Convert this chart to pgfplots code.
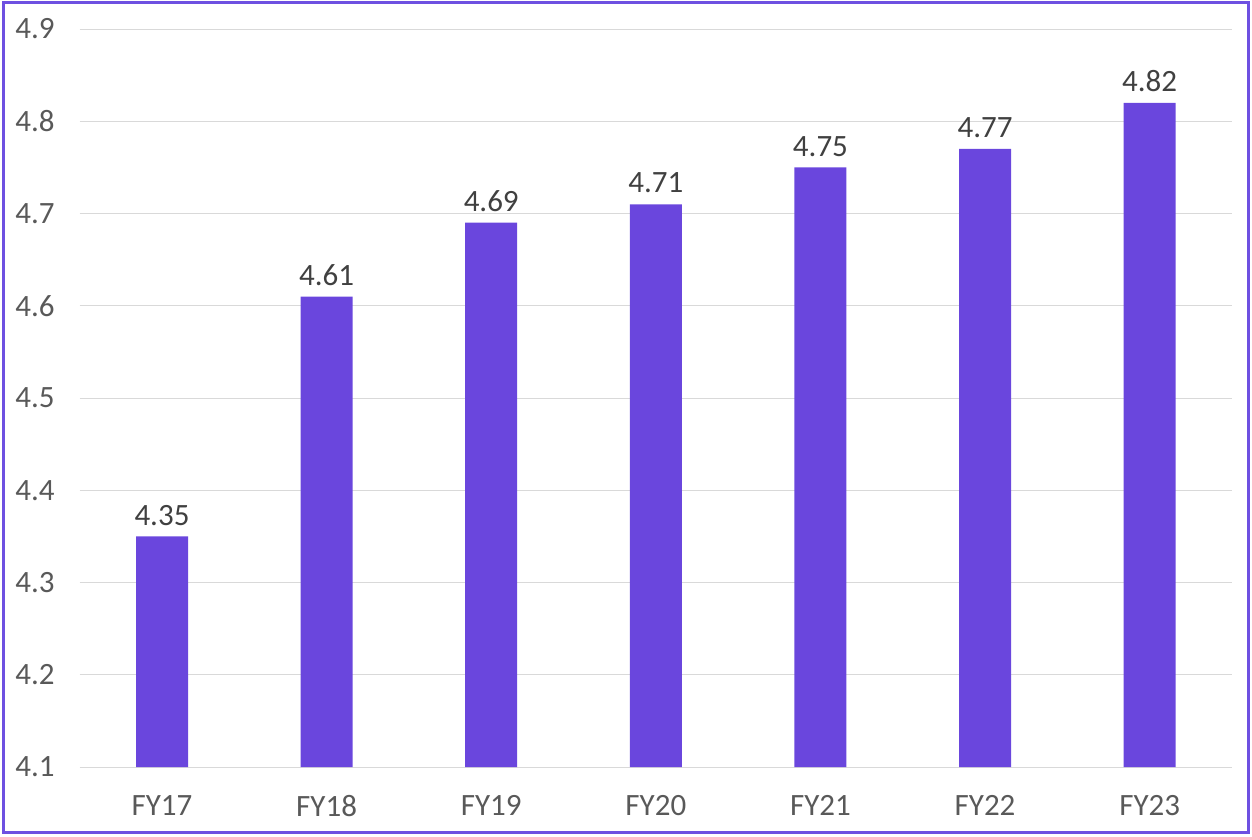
\documentclass[border=0pt]{standalone}
\usepackage{pgfplots}
\pgfplotsset{compat=1.18}
\usepackage{fontspec}
\setmainfont{Carlito}
\definecolor{barc}{RGB}{106,70,221}
\definecolor{framec}{RGB}{110,80,225}
\definecolor{gridc}{RGB}{217,217,217}
\definecolor{tickc}{RGB}{89,89,89}
\definecolor{valc}{RGB}{64,64,64}
\begin{document}
\begin{tikzpicture}
\useasboundingbox (0,0) rectangle (626pt,418pt);
\draw[framec, line width=1.5pt] (1.5pt,2pt) rectangle (624pt,416.5pt);
\begin{axis}[
  at={(39.85pt,34.5pt)}, anchor=south west,
  scale only axis,
  width=576.15pt, height=369pt,
  ymin=4.1, ymax=4.9,
  ytick={4.1,4.2,4.3,4.4,4.5,4.6,4.7,4.8,4.9},
  xmin=-0.5, xmax=6.5,
  xtick={0,1,2,3,4,5,6},
  xticklabels={FY17,FY18,FY19,FY20,FY21,FY22,FY23},
  axis line style={draw=none},
  major tick length=0pt,
  ymajorgrids,
  grid style={gridc, line width=0.5pt},
  /pgf/number format/assume math mode=true,
  /pgf/number format/fixed,
  /pgf/number format/precision=2,
  yticklabel style={font=\fontsize{15.5}{18}\selectfont, text=tickc, xshift=-9pt},
  xticklabel style={font=\fontsize{15.5}{18}\selectfont, text=tickc, yshift=-10.5pt},
  y tick label style={/pgf/number format/.cd, fixed, fixed zerofill, precision=1},
  ybar, bar width=26pt,
  nodes near coords,
  nodes near coords style={font=\fontsize{15.5}{18}\selectfont, text=valc, yshift=2pt, /pgf/number format/.cd, fixed, fixed zerofill, precision=2},
  point meta=explicit,
  clip=false,
]
\addplot[fill=barc, draw=none] coordinates {
  (0,4.35) [4.35]
  (1,4.61) [4.61]
  (2,4.69) [4.69]
  (3,4.71) [4.71]
  (4,4.75) [4.75]
  (5,4.77) [4.77]
  (6,4.82) [4.82]
};
\end{axis}
\end{tikzpicture}
\end{document}
